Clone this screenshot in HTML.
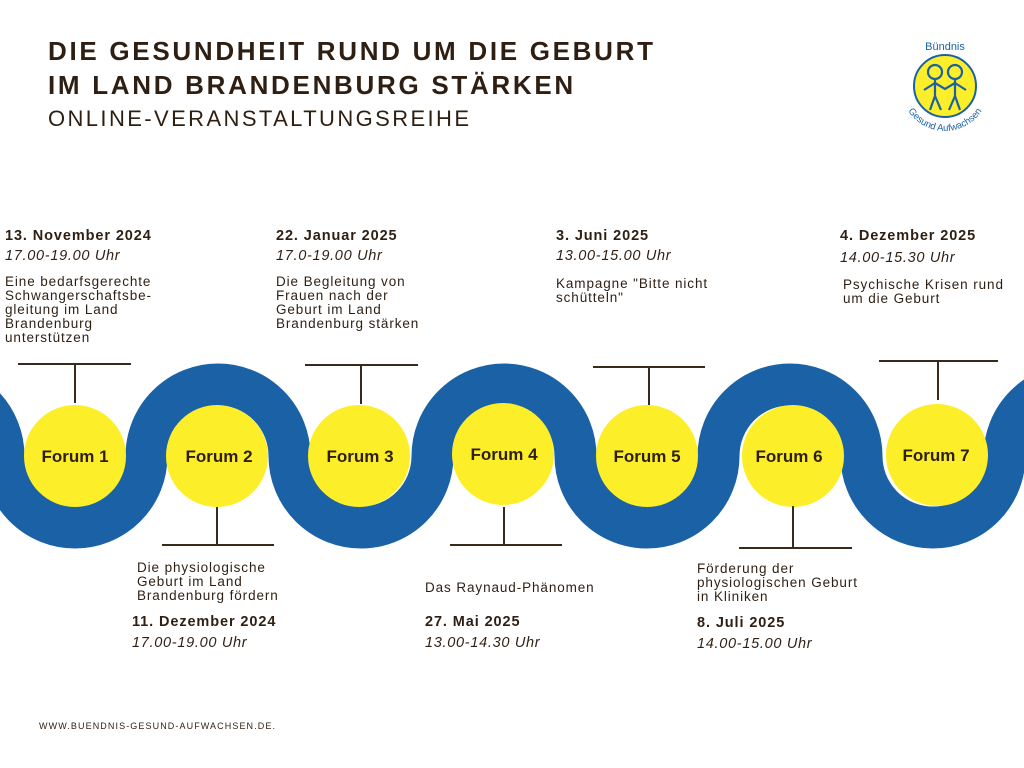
<!DOCTYPE html>
<html><head><meta charset="utf-8"><style>
body{margin:0;width:1024px;height:768px;background:#fff;position:relative;overflow:hidden;font-family:"Liberation Sans","DejaVu Sans",sans-serif;color:#2e1f12}
.t{position:absolute;white-space:nowrap}
.h{font-weight:bold;font-size:26px;letter-spacing:2.7px;left:48px}
.d{font-weight:bold;font-size:14.5px;letter-spacing:.9px}
.u{font-style:italic;font-size:14.5px;letter-spacing:.7px}
.x{font-size:13.5px;line-height:14px;letter-spacing:.9px}
</style></head><body>
<div class="t h" style="top:36px">DIE GESUNDHEIT RUND UM DIE GEBURT</div>
<div class="t h" style="top:70px">IM LAND BRANDENBURG STÄRKEN</div>
<div class="t" style="left:48px;top:106px;font-size:22px;letter-spacing:2.4px">ONLINE-VERANSTALTUNGSREIHE</div>

<svg width="1024" height="768" style="position:absolute;left:0;top:0">
<path d="M-139.5,456 A71.5,71.5 0 0 1 3.5,456 A71.5,71.5 0 0 0 146.5,456 A71.5,71.5 0 0 1 289.5,456 A71.5,71.5 0 0 0 432.5,456 A71.5,71.5 0 0 1 575.5,456 A71.5,71.5 0 0 0 718.5,456 A71.5,71.5 0 0 1 861.5,456 A71.5,71.5 0 0 0 1004.5,456 A71.5,71.5 0 0 1 1147.5,456" fill="none" stroke="#1a62a5" stroke-width="42"/>
<g fill="#fcef2a">
<circle cx="75" cy="456" r="51"/><circle cx="217" cy="456" r="51"/><circle cx="359" cy="456" r="51"/><circle cx="503" cy="454" r="51"/><circle cx="647" cy="456" r="51"/><circle cx="793" cy="456" r="51"/><circle cx="937" cy="455" r="51"/>
</g>
<g stroke="#3a2a1c" stroke-width="2" fill="none">
<path d="M18,364H131M75,364V403"/>
<path d="M162,545H274M217,507V545"/>
<path d="M305,365H418M361,365V404"/>
<path d="M450,545H562M504,507V545"/>
<path d="M593,367H705M649,367V405"/>
<path d="M739,548H852M793,506V548"/>
<path d="M879,361H998M938,361V400"/>
</g>
<g font-family="Liberation Sans,sans-serif" font-weight="bold" font-size="17" fill="#2e1f12" text-anchor="middle">
<text x="75" y="462">Forum 1</text><text x="219" y="462">Forum 2</text><text x="360" y="462">Forum 3</text><text x="504" y="460">Forum 4</text><text x="647" y="462">Forum 5</text><text x="789" y="462">Forum 6</text><text x="936" y="461">Forum 7</text>
</g>
<g transform="translate(945,86)">
<circle r="31" fill="#fcef2a" stroke="#1a62a5" stroke-width="2"/>
<g stroke="#1a62a5" stroke-width="2.2" fill="none">
<circle cx="-10" cy="-14" r="7"/><circle cx="10" cy="-14" r="7"/>
<path d="M-10,-7V10L-15,24M-10,10L-4,24M10,-7V10L15,24M10,10L4,24M-10,-3L0,3L10,-3M-10,-3L-21,4M10,-3L21,4"/>
</g>
<text y="-36" text-anchor="middle" font-size="11" fill="#1a62a5" font-family="Liberation Sans,sans-serif">Bündnis</text>
<path id="arc" d="M-42,14 A44,44 0 0 0 42,14" fill="none"/>
<text font-size="9.5" fill="#1a62a5" font-family="Liberation Sans,sans-serif" text-anchor="middle"><textPath href="#arc" startOffset="50%">Gesund Aufwachsen</textPath></text>
</g>
</svg>

<div class="t d" style="left:5px;top:228px">13. November 2024</div>
<div class="t u" style="left:5px;top:248px">17.00-19.00 Uhr</div>
<div class="t x" style="left:5px;top:275px">Eine bedarfsgerechte<br>Schwangerschaftsbe-<br>gleitung im Land<br>Brandenburg<br>unterstützen</div>

<div class="t d" style="left:276px;top:228px">22. Januar 2025</div>
<div class="t u" style="left:276px;top:248px">17.0-19.00 Uhr</div>
<div class="t x" style="left:276px;top:275px">Die Begleitung von<br>Frauen nach der<br>Geburt im Land<br>Brandenburg stärken</div>

<div class="t d" style="left:556px;top:228px">3. Juni 2025</div>
<div class="t u" style="left:556px;top:248px">13.00-15.00 Uhr</div>
<div class="t x" style="left:556px;top:277px">Kampagne "Bitte nicht<br>schütteln"</div>

<div class="t d" style="left:840px;top:228px">4. Dezember 2025</div>
<div class="t u" style="left:840px;top:250px">14.00-15.30 Uhr</div>
<div class="t x" style="left:843px;top:278px">Psychische Krisen rund<br>um die Geburt</div>

<div class="t x" style="left:137px;top:561px">Die physiologische<br>Geburt im Land<br>Brandenburg fördern</div>
<div class="t d" style="left:132px;top:614px">11. Dezember 2024</div>
<div class="t u" style="left:132px;top:635px">17.00-19.00 Uhr</div>

<div class="t x" style="left:425px;top:581px">Das Raynaud-Phänomen</div>
<div class="t d" style="left:425px;top:614px">27. Mai 2025</div>
<div class="t u" style="left:425px;top:635px">13.00-14.30 Uhr</div>

<div class="t x" style="left:697px;top:562px">Förderung der<br>physiologischen Geburt<br>in Kliniken</div>
<div class="t d" style="left:697px;top:615px">8. Juli 2025</div>
<div class="t u" style="left:697px;top:636px">14.00-15.00 Uhr</div>

<div class="t" style="left:39px;top:721px;font-size:9px;letter-spacing:1.1px">WWW.BUENDNIS-GESUND-AUFWACHSEN.DE.</div>
</body></html>
